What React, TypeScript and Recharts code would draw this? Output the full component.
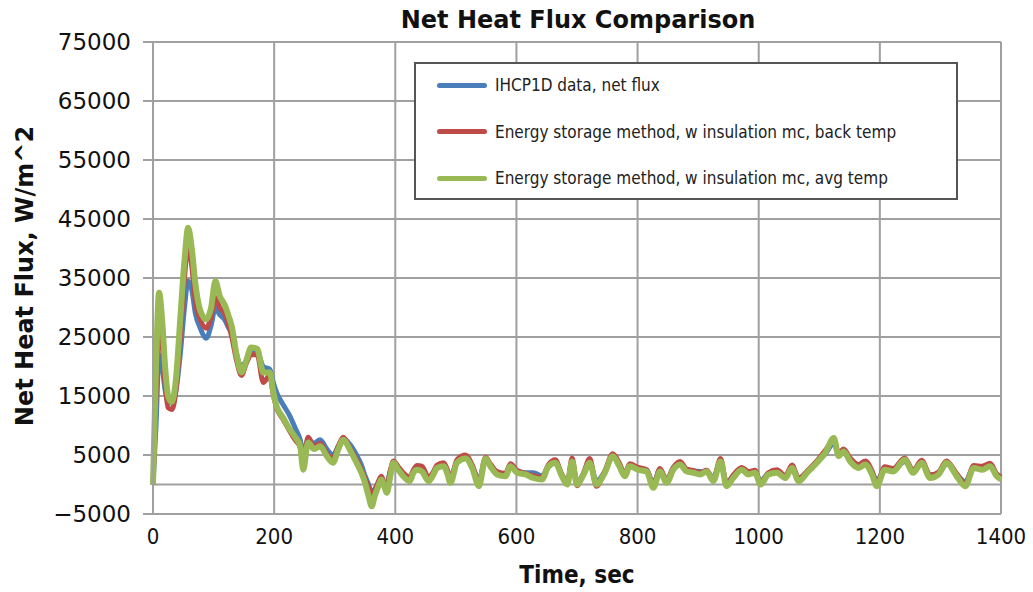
import { LineChart, Line, XAxis, YAxis, CartesianGrid, ReferenceLine, Legend } from "recharts"

// time, sec
const time = [
  0, 5, 10, 15, 20, 25, 31, 38, 45, 52,
  58, 64, 70, 78, 88, 96, 103, 110, 118, 125,
  130, 138, 146, 154, 162, 172, 182, 193, 198, 204,
  215, 226, 235, 243, 248, 256, 266, 276, 287, 297,
  306, 314, 325, 336, 344, 350, 356, 361, 366, 372,
  377, 381, 386, 392, 397, 405, 413, 424, 430, 436,
  444, 455, 462, 469, 480, 486, 491, 502, 516, 527,
  538, 549, 557, 568, 582, 590, 601, 615, 628, 642,
  653, 664, 675, 684, 692, 700, 711, 721, 732, 746,
  759, 770, 779, 787, 801, 815, 826, 837, 848, 859,
  870, 881, 892, 903, 914, 925, 937, 947, 958, 972,
  983, 994, 1003, 1016, 1030, 1044, 1055, 1066, 1080, 1096,
  1110, 1124, 1132, 1140, 1151, 1165, 1176, 1187, 1195, 1208,
  1222, 1241, 1255, 1269, 1283, 1297, 1310, 1327, 1341, 1355,
  1369, 1382, 1393, 1400,
]

// IHCP1D data, net flux
const ihcpFlux = [
  0, 10000, 22000, 20000, 16000, 14000, 13800, 16000, 22000, 30000,
  34500, 33000, 29000, 26500, 24800, 27000, 30000, 28800, 28000, 26500,
  25700, 22000, 20000, 21000, 22300, 22500, 20000, 19500, 17500, 15600,
  13500, 11600, 9500, 7600, 5500, 7500, 7000, 7600, 6000, 5000,
  6500, 7800, 6800, 5000, 3300, 1500, 0, -1400, -800, 200,
  1000, 400, 300, 2300, 3500, 2800, 1800, 1200, 2300, 2700,
  2500, 1000, 1800, 3000, 3300, 2300, 1200, 3800, 4600, 3200,
  800, 4000, 3300, 2100, 1800, 3200, 2300, 2000, 2000, 1500,
  3000, 3800, 1600, 500, 3700, 400, 1900, 3800, 600, 2200,
  4800, 3300, 1800, 3200, 2700, 2400, 300, 2500, 800, 2800,
  3600, 2500, 2300, 2200, 2100, 1200, 3700, 400, 1500, 2700,
  2000, 2200, 600, 1900, 2200, 1500, 3000, 1100, 2100, 3800,
  5200, 7000, 5000, 5400, 4200, 3300, 3500, 2200, 600, 2600,
  2400, 3900, 2300, 3600, 1600, 1800, 3500, 1700, 500, 2900,
  2700, 3100, 1700, 1300,
]

// Energy storage method, back temp
const backTempFlux = [
  0, 15000, 27000, 24000, 17000, 13000, 12700, 16000, 25000, 35000,
  40500, 37000, 31000, 28000, 26500, 28500, 31700, 30000, 29000, 27000,
  25000, 21000, 18500, 20500, 22000, 22000, 17300, 18500, 15500, 13000,
  11000, 9000, 7500, 6300, 4000, 8000, 6500, 7000, 5200, 4500,
  6500, 8000, 6200, 4200, 2500, 1000, -500, -2000, -1000, 500,
  1400, 500, -200, 2500, 4000, 3000, 2000, 1200, 2500, 3200,
  3100, 1200, 2000, 3300, 3700, 2500, 1000, 4200, 5000, 3300,
  500, 4600, 3500, 2200, 1900, 3500, 2400, 1900, 1500, 1200,
  3400, 4200, 1700, 300, 4500, -200, 2000, 4400, -300, 2300,
  5200, 3600, 1800, 3500, 2900, 2500, -100, 2700, 700, 2900,
  3900, 2600, 2400, 2000, 2400, 900, 4400, 0, 1600, 2900,
  2200, 2400, 200, 2000, 2500, 1500, 3300, 1000, 2300, 4000,
  5800, 7500, 5300, 6000, 4500, 3400, 4000, 2300, 100, 3000,
  2700, 4500, 2400, 4100, 1600, 2100, 4000, 1800, 200, 3200,
  3100, 3600, 1800, 1200,
]

// Energy storage method, avg temp
const avgTempFlux = [
  0, 20000, 32500, 28000, 20000, 15000, 14000, 18000, 28000, 38000,
  43500, 40000, 34000, 29500, 28000, 30000, 34500, 32000, 30500, 28500,
  26800, 22000, 19000, 21000, 23200, 23000, 19000, 19000, 16000, 13300,
  11300, 9300, 8000, 6500, 2500, 7100, 6000, 6500, 4800, 3700,
  6000, 7600, 5900, 3700, 2000, 300, -2000, -3700, -2000, -300,
  850, 0, -1400, 1500, 3700, 2500, 1400, 560, 2000, 2500,
  2200, 560, 1500, 2800, 3100, 1800, 280, 3700, 4400, 2800,
  -280, 4400, 3100, 1700, 1400, 3100, 2000, 1700, 1100, 850,
  3100, 3700, 1400, 0, 3900, 0, 1700, 3700, 0, 2000,
  4800, 3100, 1400, 3100, 2500, 2200, -560, 2200, 280, 2500,
  3400, 2200, 2000, 1700, 2200, 560, 3900, -280, 1100, 2500,
  1700, 2000, 0, 1700, 2000, 1100, 2800, 560, 2000, 3700,
  5400, 7900, 4800, 5600, 3900, 2800, 3400, 1700, -280, 2500,
  2200, 4200, 2000, 3700, 1100, 1700, 3700, 1400, -280, 2800,
  2500, 3100, 1400, 850,
]

const seriesNames = [
  "IHCP1D data, net flux",
  "Energy storage method, w insulation mc, back temp",
  "Energy storage method, w insulation mc, avg temp",
]

const xTicks = [0, 200, 400, 600, 800, 1000, 1200, 1400]
const yTicks = [-5000, 5000, 15000, 25000, 35000, 45000, 55000, 65000, 75000]

const data = time.map((t, i) => ({
  t,
  ihcp: ihcpFlux[i],
  back: backTempFlux[i],
  avg: avgTempFlux[i],
}))

const gridColor = "#a0a0a0"

function LegendBox({ payload }: any) {
  const items = [...(payload || [])].sort(
    (a: any, b: any) => seriesNames.indexOf(a.value) - seriesNames.indexOf(b.value)
  )
  return (
    <div
      style={{
        boxSizing: "border-box",
        width: 544,
        height: 138,
        border: "2px solid #555",
        background: "#fff",
        fontFamily: "'DejaVu Sans Condensed', 'DejaVu Sans', sans-serif",
        fontSize: 17,
        color: "#222",
      }}
    >
      <div style={{ position: "relative", top: -2 }}>
        {items.map((entry: any) => (
          <div key={entry.value} style={{ display: "flex", alignItems: "center", height: 46.5 }}>
            <span
              style={{
                display: "inline-block",
                width: 50,
                height: 5,
                borderRadius: 3,
                background: entry.color,
                marginLeft: 21,
                marginRight: 8,
              }}
            />
            <span>{entry.value}</span>
          </div>
        ))}
      </div>
    </div>
  )
}

export default function App() {
  const fmtY = (v: number) => (v < 0 ? "\u2212" + Math.abs(v) : String(v))

  return (
    <div style={{ position: "absolute", left: 0, top: 0, width: 1033, height: 592, background: "#fff" }}>
      <LineChart width={1033} height={592} data={data} margin={{ top: 42, right: 32, bottom: 0, left: 0 }}>
        <CartesianGrid stroke={gridColor} strokeWidth={2} />
        <XAxis
          dataKey="t"
          type="number"
          domain={[0, 1400]}
          ticks={xTicks}
          height={78}
          axisLine={{ stroke: gridColor, strokeWidth: 2 }}
          tickLine={false}
          tickMargin={8}
          tick={{ fill: "#111", fontSize: 22, fontFamily: "'DejaVu Sans Condensed', 'DejaVu Sans', sans-serif" }}
        />
        <YAxis
          type="number"
          domain={[-5000, 75000]}
          ticks={yTicks}
          width={153}
          tickFormatter={fmtY}
          axisLine={{ stroke: gridColor, strokeWidth: 2 }}
          tickLine={{ stroke: gridColor, strokeWidth: 2 }}
          tickSize={10}
          tickMargin={12}
          tick={{ fill: "#111", fontSize: 23, fontFamily: "'DejaVu Sans', sans-serif" }}
        />
        <ReferenceLine y={0} stroke={gridColor} strokeWidth={2} />
        <Legend
          layout="vertical"
          align="center"
          verticalAlign="middle"
          content={<LegendBox />}
          wrapperStyle={{ left: 414, top: 62, width: 544, height: 138 }}
        />
        <Line
          type="monotone"
          dataKey="ihcp"
          name={seriesNames[0]}
          stroke="#4a7ebb"
          strokeWidth={5}
          dot={false}
          isAnimationActive={false}
        />
        <Line
          type="monotone"
          dataKey="back"
          name={seriesNames[1]}
          stroke="#be4b48"
          strokeWidth={5}
          dot={false}
          isAnimationActive={false}
        />
        <Line
          type="monotone"
          dataKey="avg"
          name={seriesNames[2]}
          stroke="#98b954"
          strokeWidth={6}
          dot={false}
          isAnimationActive={false}
        />
      </LineChart>
      <div
        style={{
          position: "absolute",
          left: 0,
          width: 1156,
          top: 6,
          textAlign: "center",
          fontFamily: "'DejaVu Sans', sans-serif",
          fontWeight: "bold",
          fontSize: 24,
          color: "#111",
        }}
      >
        Net Heat Flux Comparison
      </div>
      <div
        style={{
          position: "absolute",
          left: 0,
          width: 1154,
          top: 561,
          textAlign: "center",
          fontFamily: "'DejaVu Sans Condensed', 'DejaVu Sans', sans-serif",
          fontWeight: "bold",
          fontSize: 24,
          color: "#111",
        }}
      >
        Time, sec
      </div>
      <div
        style={{
          position: "absolute",
          left: 25,
          top: 276,
          transform: "translate(-50%, -50%) rotate(-90deg)",
          whiteSpace: "nowrap",
          fontFamily: "'DejaVu Sans', sans-serif",
          fontWeight: "bold",
          fontSize: 24,
          color: "#111",
        }}
      >
        Net Heat Flux, W/m^2
      </div>
    </div>
  )
}
